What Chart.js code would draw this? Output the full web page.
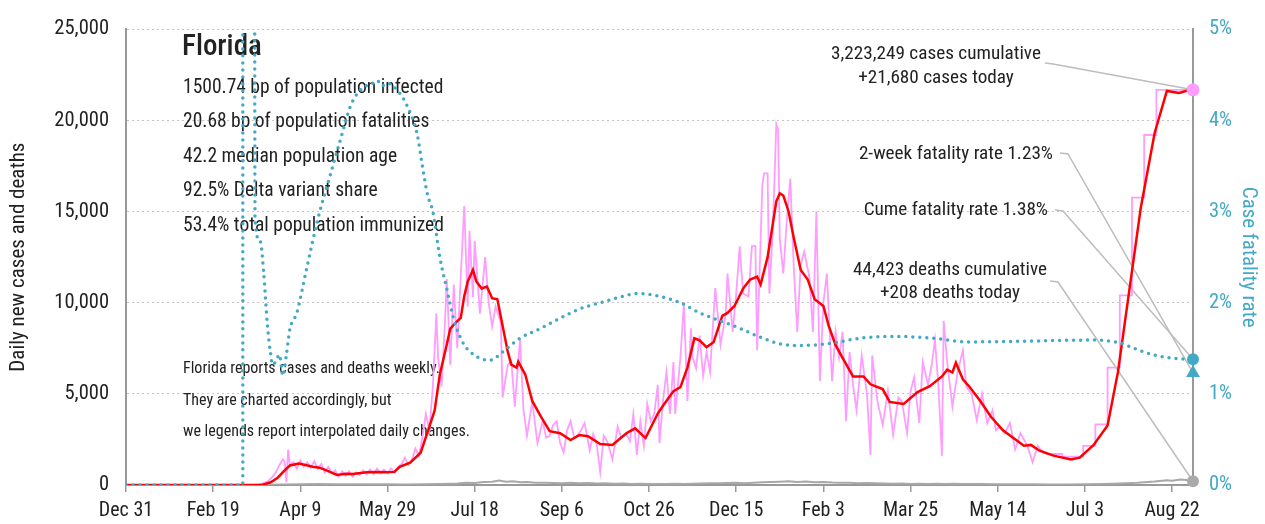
<!DOCTYPE html>
<html>
<head>
<meta charset="utf-8">
<script src="https://cdn.jsdelivr.net/npm/chart.js@4/dist/chart.umd.min.js"></script>
<style>
  html, body { margin: 0; padding: 0; background: #fff; }
</style>
</head>
<body>
<canvas id="chart" width="1265" height="524"></canvas>
<script>
const FONT = '"Roboto Condensed", "Liberation Sans", sans-serif';
const TEAL = '#44a9c4';

// x values are days since Dec 31 2019
const tickLabels = ['Dec 31', 'Feb 19', 'Apr 9', 'May 29', 'Jul 18', 'Sep 6', 'Oct 26',
  'Dec 15', 'Feb 3', 'Mar 25', 'May 14', 'Jul 3', 'Aug 22'];
const lastDay = 612;

// raw daily cases [day, cases]
const dailyCases = [
  [74,0],[76,30],[78,80],[80,150],[82,250],[84,450],[86,700],[88,1100],[90,1400],[91,1300],[92,150],[93,1950],
  [94,1100],[96,1250],[98,900],[100,1350],[102,1000],[104,1250],[106,950],[108,1300],[110,900],[112,1150],
  [114,700],[116,1000],[118,650],[120,800],[122,450],[124,750],[126,500],[128,750],[130,450],[132,700],
  [134,550],[136,800],[138,600],[140,850],[142,600],[144,900],[146,650],[148,850],[150,650],[152,900],
  [154,700],[156,1000],[158,1150],[160,1500],[162,1100],[164,1400],[166,2000],[168,1600],[170,2600],
  [172,3900],[174,3000],[176,5400],[178,9400],[179,7000],[181,5400],[183,9000],[184,11300],[186,6600],
  [188,11000],[190,7500],[192,11400],[194,15300],[196,9800],[197,13950],[199,10300],[200,13400],[203,9400],
  [206,12500],[208,10000],[210,8700],[212,9800],[215,8900],[216,4800],[219,6600],[221,6800],[223,4300],
  [226,8000],[228,4100],[230,2700],[233,4600],[236,2300],[239,3500],[241,2600],[243,2700],[245,3300],
  [247,3500],[249,2300],[251,1800],[253,3000],[255,3500],[257,2600],[259,2700],[261,3000],[263,3400],
  [266,1900],[268,2800],[270,2200],[272,700],[274,2700],[276,2400],[279,1400],[282,3200],[284,2600],
  [287,2800],[289,2400],[291,3900],[293,1650],[295,3500],[297,2150],[299,4450],[301,3500],[303,3900],
  [305,5500],[306,2300],[308,4600],[310,6200],[312,3900],[314,6750],[315,3900],[318,7000],[320,10000],
  [322,4600],[324,8600],[325,7000],[327,6400],[329,8200],[331,6000],[333,7300],[335,6200],[338,10800],
  [341,7700],[344,9400],[345,11600],[348,8400],[350,10500],[352,13100],[354,10500],[357,10350],[359,13100],
  [361,13100],[362,7400],[365,16500],[366,17100],[368,17100],[369,10500],[371,14000],[373,19800],[374,19500],
  [375,13500],[377,11600],[379,14500],[381,16800],[383,12000],[385,8400],[387,12100],[389,12800],[392,11400],
  [394,8400],[396,15000],[398,5700],[400,10000],[402,11600],[405,5700],[407,8400],[409,7000],[411,8400],
  [413,3500],[415,7300],[417,5500],[419,4100],[422,7100],[425,5000],[427,1650],[428,7100],[431,4600],
  [434,3300],[437,5150],[440,2750],[443,4800],[445,4600],[448,2850],[450,5150],[452,5900],[455,3400],
  [457,6750],[460,5500],[462,6500],[464,7950],[466,5400],[468,1600],[469,9000],[471,6750],[474,4300],
  [477,6200],[480,7400],[482,5400],[485,5000],[488,3550],[491,5000],[494,3400],[497,4100],[499,3000],
  [501,3200],[504,2850],[507,3400],[510,1950],[513,2850],[517,2150],[520,1250],[523,2150],[526,1770]
];

// weekly reported cases, charted as steps [day, cases]
const weeklyCases = [
  [526,1770],[528,1700],[537,1550],[549,2150],[556,3330],[563,6440],[570,10400],[577,15770],
  [584,19200],[591,21680],[612,21680]
];

// 7-day average cases [day, cases]
const avgCases = [
  [0,0],[78,0],[83,150],[87,400],[91,800],[94,1070],[99,1180],[103,1100],[107,1000],[111,950],[115,800],
  [121,550],[126,620],[130,610],[138,700],[144,720],[150,700],[154,720],[157,1000],[163,1230],[169,1770],
  [174,3200],[177,4080],[180,6060],[183,7300],[186,8580],[189,8900],[192,9170],[194,10350],[196,11160],
  [199,11800],[201,11160],[204,10780],[207,10890],[210,10250],[213,10190],[216,8740],[219,7300],[221,6600],
  [224,6440],[225,6760],[229,6060],[233,4610],[238,3755],[243,2950],[249,2840],[255,2470],[260,2740],
  [265,2680],[272,2250],[279,2200],[287,2840],[292,3110],[298,2575],[305,3920],[308,4350],[314,5150],
  [318,5365],[322,6440],[326,8050],[329,7940],[333,7565],[337,7830],[342,9280],[345,9440],[349,9820],
  [354,10780],[358,11270],[362,11430],[364,11000],[368,12500],[373,15560],[375,16000],[377,15880],
  [380,15020],[383,13570],[387,11800],[391,11270],[395,10190],[400,9820],[403,8740],[407,7670],[411,6970],
  [417,5955],[423,5955],[427,5525],[434,5260],[438,4560],[446,4450],[454,5100],[461,5420],[468,5955],
  [471,6330],[474,6170],[476,6710],[480,5800],[484,5365],[490,4610],[496,3755],[503,3000],[509,2575],
  [515,2150],[519,2200],[524,1880],[532,1610],[542,1395],[547,1500],[555,2200],[563,3270],[569,6220],
  [576,11050],[582,15180],[590,19310],[597,21620],[604,21510],[612,21730]
];

// daily deaths [day, deaths]
const dailyDeaths = [
  [0,0],[60,0],[70,2],[80,10],[90,30],[100,45],[110,50],[120,45],[130,40],[140,35],[150,35],[160,30],
  [170,35],[180,50],[190,80],[195,120],[200,110],[205,160],[210,180],[214,250],[218,180],[222,200],
  [226,150],[230,170],[235,120],[240,130],[245,110],[250,100],[255,120],[260,90],[265,110],[270,80],
  [275,100],[280,70],[285,80],[290,60],[295,75],[300,50],[305,60],[310,55],[315,65],[320,60],[325,70],
  [330,80],[335,90],[340,100],[345,110],[350,120],[355,100],[360,130],[365,150],[370,170],[375,180],
  [380,200],[385,170],[390,190],[395,150],[400,170],[405,140],[410,130],[415,120],[420,100],[425,110],
  [430,90],[435,80],[440,70],[445,80],[450,60],[455,70],[460,60],[465,75],[470,50],[475,65],[480,55],
  [490,50],[500,45],[510,40],[520,35],[530,30],[540,30],[550,35],[560,50],[570,80],[580,120],[590,190],
  [597,260],[600,230],[605,300],[608,270],[612,208]
];

// case fatality rate, percent [day, pct]
const fatalityRate = [
  [0,0],[67,0],[67,60],[72.5,60],[74,2.93],[77,2.67],[79,2.32],[81,1.78],[83,1.43],[84,1.32],[86,1.36],
  [88,1.43],[90,1.2],[92,1.43],[94,1.71],[98,1.89],[103,2.32],[107,2.67],[111,2.99],[117,3.39],[123,3.79],
  [129,4.17],[136,4.36],[141,4.4],[144,4.44],[147,4.38],[150,4.41],[153,4.38],[157,4.3],[161,4.17],
  [167,3.85],[170,3.5],[173,3.18],[176,3.0],[180,2.5],[184,2.15],[188,1.82],[193,1.57],[201,1.41],
  [209,1.37],[216,1.46],[226,1.61],[238,1.72],[249,1.83],[260,1.93],[272,2.0],[283,2.06],[293,2.1],
  [306,2.07],[318,2.0],[329,1.89],[341,1.8],[352,1.72],[364,1.62],[375,1.55],[387,1.53],[406,1.56],
  [421,1.61],[442,1.63],[463,1.61],[482,1.57],[520,1.58],[553,1.59],[570,1.56],[578,1.5],[589,1.43],
  [601,1.39],[612,1.38]
];

const casesToday = 21680;
const deathsToday = 208;
const cumeRate = 1.38;
const twoWeekRate = 1.23;

const stateName = 'Florida';
const infoLines = [
  '1500.74 bp of population infected',
  '20.68 bp of population fatalities',
  '42.2 median population age',
  '92.5% Delta variant share',
  '53.4% total population immunized'
];
const noteLines = [
  'Florida reports cases and deaths weekly.',
  'They are charted accordingly, but',
  'we legends report interpolated daily changes.'
];
const casesNote = ['3,223,249 cases cumulative', '+21,680 cases today'];
const deathsNote = ['44,423 deaths cumulative', '+208 deaths today'];

const toXY = pairs => pairs.map(([d, v]) => ({ x: d, y: v }));

const overlay = {
  id: 'overlay',
  beforeDatasetsDraw(chart) {
    const { ctx, scales: { x, y, y1 } } = chart;
    ctx.save();
    ctx.fillStyle = '#222';
    ctx.textBaseline = 'middle';
    ctx.textAlign = 'left';
    ctx.font = `500 29px ${FONT}`;
    ctx.fillText(stateName, 182, 48);
    ctx.font = `19.5px ${FONT}`;
    infoLines.forEach((t, i) => ctx.fillText(t, 183, 88 + i * 34.5));
    ctx.font = `16px ${FONT}`;
    noteLines.forEach((t, i) => ctx.fillText(t, 183, 369 + i * 31.5));

    // notes on the right
    ctx.font = `19.2px ${FONT}`;
    ctx.textAlign = 'center';
    casesNote.forEach((t, i) => ctx.fillText(t, 936, 54 + i * 24.5));
    deathsNote.forEach((t, i) => ctx.fillText(t, 950, 270 + i * 23.5));
    ctx.textAlign = 'right';
    ctx.fillText('2-week fatality rate ' + twoWeekRate.toFixed(2) + '%', 1053, 154);
    ctx.fillText('Cume fatality rate ' + cumeRate.toFixed(2) + '%', 1048, 210);

    // leader lines
    const ex = x.getPixelForValue(lastDay);
    const leader = (x0, yy, tx, ty) => {
      ctx.beginPath();
      ctx.moveTo(x0, yy);
      ctx.lineTo(x0 + 8, yy + 1);
      ctx.lineTo(tx, ty);
      ctx.stroke();
    };
    ctx.strokeStyle = '#bdbdbd';
    ctx.lineWidth = 1.5;
    leader(1045, 63, ex, y.getPixelForValue(casesToday));
    leader(1060, 153, ex, y1.getPixelForValue(twoWeekRate));
    leader(1055, 210, ex, y1.getPixelForValue(cumeRate));
    leader(1050, 281, ex, y.getPixelForValue(deathsToday));
    ctx.restore();
  }
};

Chart.defaults.font.family = FONT;

new Chart(document.getElementById('chart'), {
  type: 'line',
  data: {
    datasets: [
      { data: [{ x: lastDay, y: casesToday }], yAxisID: 'y', pointRadius: 6.5, pointBackgroundColor: '#ff9cff', pointBorderWidth: 0, showLine: false, clip: false },
      { data: [{ x: lastDay, y: cumeRate }], yAxisID: 'y1', pointRadius: 6, pointBackgroundColor: TEAL, pointBorderWidth: 0, showLine: false, clip: false },
      { data: [{ x: lastDay, y: twoWeekRate }], yAxisID: 'y1', pointStyle: 'triangle', pointRadius: 8, pointBackgroundColor: TEAL, pointBorderWidth: 0, showLine: false, clip: false },
      { data: [{ x: lastDay, y: deathsToday }], yAxisID: 'y', pointRadius: 6, pointBackgroundColor: '#aaaaaa', pointBorderWidth: 0, showLine: false, clip: false },
      { data: toXY(fatalityRate), yAxisID: 'y1', borderColor: TEAL, borderWidth: 3.5, borderDash: [0, 7], borderCapStyle: 'round', pointRadius: 0, cubicInterpolationMode: 'monotone' },
      { data: toXY(avgCases), yAxisID: 'y', borderColor: '#ff0000', borderWidth: 2.5, pointRadius: 0 },
      { data: toXY(weeklyCases), yAxisID: 'y', borderColor: '#ff9cff', borderWidth: 1.8, pointRadius: 0, stepped: 'before' },
      { data: toXY(dailyCases), yAxisID: 'y', borderColor: '#ff9cff', borderWidth: 1.8, pointRadius: 0 },
      { data: toXY(dailyDeaths), yAxisID: 'y', borderColor: '#a8a8a8', borderWidth: 2, pointRadius: 0 }
    ]
  },
  options: {
    responsive: false,
    animation: false,
    layout: { padding: { top: 17 } },
    plugins: { legend: { display: false }, tooltip: { enabled: false } },
    scales: {
      x: {
        type: 'linear', min: 0, max: lastDay,
        ticks: {
          stepSize: 50, includeBounds: false, autoSkip: false, maxRotation: 0, padding: 7,
          color: '#222', font: { family: FONT, size: 20 },
          callback: v => tickLabels[Math.round(v / 50)]
        },
        grid: { drawOnChartArea: false, drawTicks: true, tickLength: 7, color: '#999', lineWidth: 1.5 },
        border: { display: true, color: '#999', width: 2 },
        afterFit: s => { s.height = 39; }
      },
      y: {
        position: 'left', min: 0, max: 25000,
        ticks: { stepSize: 5000, padding: 17, color: '#222', font: { family: FONT, size: 20.5 },
          callback: v => v.toLocaleString('en-US') },
        grid: { color: '#c4c4c4', lineWidth: 1, drawTicks: false },
        border: { display: true, color: '#999', width: 2, dash: [2, 3] },
        title: { display: true, text: 'Daily new cases and deaths', color: '#222',
          font: { family: FONT, size: 21 }, padding: { top: 6, bottom: 0 } },
        afterFit: s => { s.width = 126; }
      },
      y1: {
        position: 'right', min: 0, max: 5,
        ticks: { stepSize: 1, padding: 16, color: TEAL, font: { family: FONT, size: 20.5 },
          callback: v => v + '%' },
        grid: { drawOnChartArea: false, drawTicks: false },
        border: { display: true, color: '#999', width: 2 },
        title: { display: true, text: 'Case fatality rate', color: TEAL,
          font: { family: FONT, size: 21 }, padding: { top: 4, bottom: 0 } },
        afterFit: s => { s.width = 72; }
      }
    }
  },
  plugins: [overlay]
});
</script>
</body>
</html>
